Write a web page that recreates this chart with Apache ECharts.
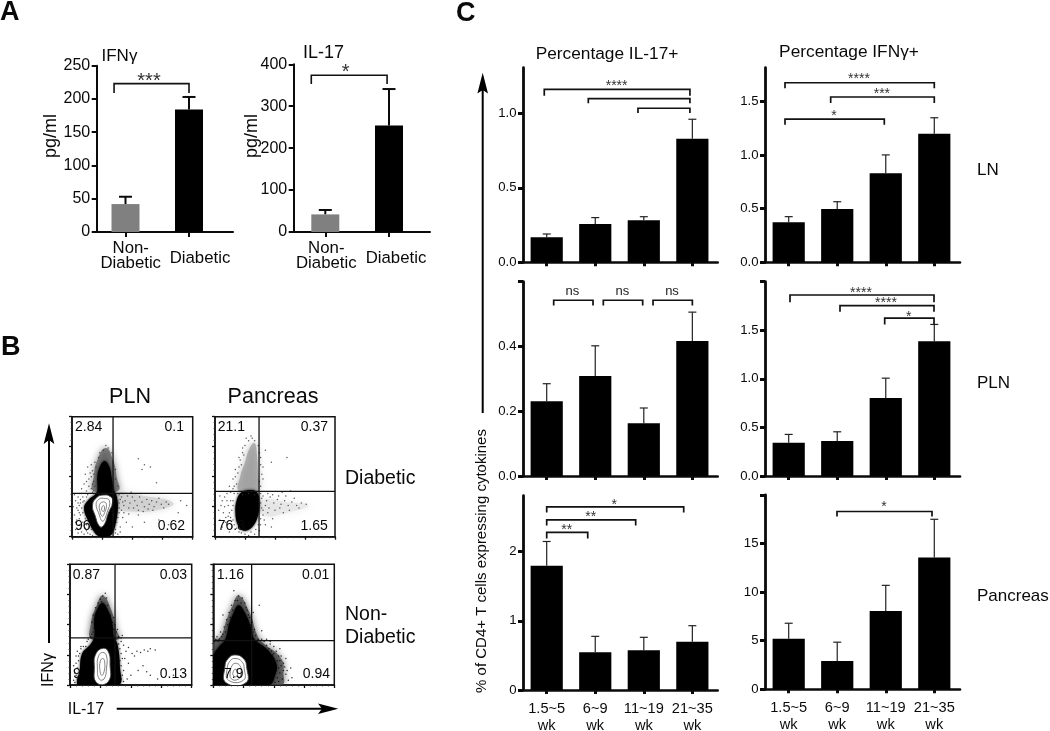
<!DOCTYPE html>
<html><head><meta charset="utf-8">
<style>html,body{margin:0;padding:0;background:#fff}#c{width:1050px;height:731px}</style>
<script src="https://cdn.jsdelivr.net/npm/echarts@6/dist/echarts.min.js"></script>
</head><body><div id="c"></div>
<script>
// ---------- Panel A data
const groupCats = ['Non-\nDiabetic', 'Diabetic'];
const ifnSerumMeans = [42, 184];
const ifnSerumUppers = [53, 203];
const il17SerumMeans = [42, 254];
const il17SerumUppers = [52.5, 341];
// ---------- Panel C data
const ageCats = ['1.5~5\nwk', '6~9\nwk', '11~19\nwk', '21~35\nwk'];
const il17LnMeans = [0.168, 0.257, 0.282, 0.83];
const il17LnUppers = [0.19, 0.30, 0.306, 0.96];
const ifnLnMeans = [0.372, 0.496, 0.83, 1.197];
const ifnLnUppers = [0.425, 0.564, 1.0, 1.346];
const il17PlnMeans = [0.231, 0.309, 0.163, 0.417];
const il17PlnUppers = [0.285, 0.402, 0.21, 0.506];
const ifnPlnMeans = [0.342, 0.36, 0.804, 1.387];
const ifnPlnUppers = [0.428, 0.455, 1.007, 1.56];
const il17PanMeans = [1.796, 0.545, 0.574, 0.698];
const il17PanUppers = [2.148, 0.776, 0.762, 0.93];
const ifnPanMeans = [5.2, 2.92, 8.07, 13.57];
const ifnPanUppers = [6.8, 4.85, 10.7, 17.5];
// Significance brackets: [fromX, toX, topY, legEndY, labelX, labelY, label]
const ifnSerumBrackets = [[-0.18, 1, 223, 209, 0.37, 229, '***']];
const il17SerumBrackets = [[-0.22, 0.97, 374, 353, 0.32, 385, '*']];
const il17LnBrackets = [[-0.05, 2.95, 1.161, 1.118, 1.44, 1.205, '****'], [0.857, 2.95, 1.098, 1.067], [1.88, 2.95, 1.034, 1.002]];
const ifnLnBrackets = [[-0.076, 3, 1.672, 1.62, 1.449, 1.735, '****'], [0.865, 3, 1.539, 1.483, 1.92, 1.592, '***'], [-0.076, 1.97, 1.334, 1.281, 0.933, 1.393, '*']];
const il17PlnBrackets = [[0.144, 0.954, 0.5427, 0.5263, 0.527, 0.5697, 'ns'], [1.166, 1.977, 0.5427, 0.5263, 1.557, 0.5697, 'ns'], [2.19, 3, 0.5427, 0.5263, 2.581, 0.5697, 'ns']];
const ifnPlnBrackets = [[0.027, 2.994, 1.863, 1.788, 1.49, 1.912, '****'], [1.057, 2.994, 1.753, 1.69, 2.005, 1.808, '****'], [1.978, 2.994, 1.625, 1.56, 2.473, 1.67, '*']];
const il17PanBrackets = [[0, 0.845, 2.279, 2.192, 0.412, 2.36, '**'], [0, 1.833, 2.461, 2.38, 0.906, 2.543, '**'], [0, 2.822, 2.649, 2.568, 1.392, 2.712, '*']];
const ifnPanBrackets = [[0.995, 2.953, 18.3, 17.79, 1.964, 19.03, '*']];
// Tick values and labels
const ifnSerumTicks = [0, 50, 100, 150, 200, 250];
const il17SerumTicks = [0, 100, 200, 300, 400];
const il17LnTicks = [0, 0.5, 1];
const il17LnTickLabels = ['0.0', '0.5', '1.0'];
const ifnLnTicks = [0, 0.5, 1, 1.5];
const ifnLnTickLabels = ['0.0', '0.5', '1.0', '1.5'];
const il17PlnTicks = [0, 0.2, 0.4, 0.6];
const il17PlnTickLabels = ['0.0', '0.2', '0.4', ''];
const ifnPlnTicks = [0, 0.5, 1, 1.5, 2];
const ifnPlnTickLabels = ['0.0', '0.5', '1.0', '1.5', ''];
const il17PanTicks = [0, 1, 2];
const il17PanTickLabels = ['0', '1', '2'];
const ifnPanTicks = [0, 5, 10, 15, 20];
const ifnPanTickLabels = ['0', '5', '10', '15', ''];
// ---------- Panel B data (axes are 0-100 in each direction)
const facsGatePlnDiab = [34, 36.1];
const facsGatePanDiab = [36.7, 37.8];
const facsGatePlnNon = [37, 39];
const facsGatePanNon = [31.7, 36.7];
const cloudPlnDiab = [[27,63],[31,58],[33,48],[35,38],[37,34],[38,24],[36,10],[33,2],[29,0],[23,0],[19,3],[14,12],[10,24],[14,31],[19,35],[21,38],[21,50],[23,58]];
const cloudPanDiab = [[22,37],[30,39],[35,37],[37,30],[36,18],[31,8],[24,5],[19,10],[17,20],[18,30]];
const cloudPlnNon = [[27,68],[32,60],[35,50],[36,40],[39,34],[41,15],[40,0],[7,0],[8,12],[10,26],[17,34],[20,40],[20,55],[23,64]];
const cloudPanNon = [[21,66],[27,58],[31,48],[34,38],[44,30],[52,18],[51,8],[46,0],[0,0],[0,24],[5,32],[10,38],[13,50],[16,58]];
const smearPlnDiab = [[36,36],[60,34],[84,28],[70,22],[50,21],[38,24]];
const haloPlnDiab = [[28,74],[34,64],[37,50],[38,38],[18,38],[18,50],[21,64]];
const columnPanDiab = [[33,78],[35,68],[36,52],[37,40],[36,38],[20,38],[21,50],[25,62],[29,74]];
const smearPanDiab = [[38,30],[60,29],[78,26],[60,20],[40,18]];
const haloPlnNon = [[27,74],[34,62],[38,46],[40,38],[18,38],[17,50],[22,66]];
const haloPanNon = [[21,74],[30,60],[36,42],[40,36],[56,22],[58,10],[56,0],[0,0],[0,36],[6,40],[11,54],[16,66]];
const contourPlnDiab = [[26,34.7],[32,33.3],[33.7,29],[30,19.4],[26.5,9.7],[23.2,8.3],[19,18],[17,26.4],[20.4,32.5]];
const contourPlnNon = [[27.4,30.4],[31.5,27.6],[32.9,18],[31.5,2.8],[21.9,1.9],[20,15],[21.4,26]];
const contourPanNon = [[17.9,24.9],[24.8,22],[27.5,15.2],[27,1.9],[10.5,1.9],[9.6,15.2],[12.4,22]];
const ringsPlnDiab = [[[26,32],[31,30],[29,20],[25.5,13],[22,20],[20,27],[22,31]], [[26,29],[28.5,27],[27,20],[25,17],[23,22],[23,27]], [[26,26],[27,24],[26,21],[24.5,23]]];
const ringsPlnNon = [[[27,27],[30,24],[30,14],[28,5],[24,5],[22.5,15],[23.5,24]], [[27,22],[28.5,19],[28,11],[26,8],[24.5,13],[25,20]]];
const ringsPanNon = [[[18,22],[23.5,19.5],[25.5,14],[25,4],[12.5,4],[11.5,14],[14,20]], [[18,18],[22,16],[23,10],[21,5],[15,5],[14,11],[15.5,16]], [[18,13],[20,11],[19,7],[16.5,8],[16.5,11]]];
const dotsPlnDiab = [[8,40],[10,44],[14,42],[16,50],[18,46],[20,58],[14,48],[19,62],[22,66],[26,72],[30,74],[34,62],[36,48],[36,56],[38,42],[12,38],[6,36],[11,52],[17,55],[23,70],[28,76],[33,70],[3,6],[4,14],[5,22],[3,30],[6,10],[2,18],[8,4],[10,2],[36,6],[34,18],[40,8],[42,16],[1,25],[5,33],[38,30],[41,33],[44,30],[46,34],[48,28],[50,33],[52,30],[54,26],[56,33],[58,29],[60,25],[62,31],[64,27],[66,30],[68,25],[70,29],[72,32],[74,27],[76,24],[78,29],[80,27],[43,26],[47,24],[51,24],[55,22],[59,21],[63,23],[67,22],[42,36],[49,37],[57,36],[60,60],[58,56],[65,58],[55,65],[70,45],[90,30],[95,26],[80,10],[72,14],[60,12],[50,8],[55,18],[88,20],[45,12],[47,19],
  [19,42],[18,38],[17,37],[15,36],[13,35],[9,33],[7,31],[5,28],[6,26],[4,24],[7,18],[6,15],[9,12],[8,9],[11,7],[12,5],[13,3],[15,2],[17,1],[7,28],[8,24],[9,20],[11,15],[12,10],[14,8],[16,6],[37,12],[38,16],[39,20],[39,24],[36,3],[38,2],[40,4],[41,22],[43,20],[39,28],[40,31],[42,29],[39,35],[16,40],[17,44],[15,53],[18,52],[13,58],[16,60],[12,46],[11,36],[8,36],[9,29],[2,35],[3,12],[5,3],[6,20],[10,30],[12,33]];
const dotsPanDiab = [[26,82],[30,84],[33,80],[36,76],[23,74],[20,66],[17,56],[15,48],[12,42],[16,42],[24,68],[38,66],[40,58],[40,48],[42,72],[47,62],[60,66],[8,33],[5,26],[7,20],[4,14],[9,12],[6,8],[3,22],[11,26],[13,16],[14,8],[12,4],[15,30],[40,34],[43,30],[46,33],[49,28],[52,31],[55,27],[58,30],[61,26],[64,29],[68,26],[72,28],[76,27],[42,26],[45,24],[50,22],[54,24],[40,22],[41,14],[38,10],[37,5],[40,18],[56,37],[63,38],[47,8],[33,2],[28,1],[16,36],[19,36],[10,36],
  [14,22],[15,26],[13,30],[12,20],[15,14],[16,10],[18,7],[20,4],[22,3],[25,2],[30,4],[34,6],[36,10],[38,15],[39,24],[38,28],[39,32],[38,36],[10,30],[8,25],[6,30],[4,34],[11,17],[9,16],[7,12],[18,44],[17,50],[19,53],[20,58],[22,60],[21,64],[23,70],[25,76],[28,80],[31,82],[37,70],[38,60],[37,46],[39,52],[38,42],[15,40],[13,37],[23,35],[28,36],[33,35],[44,36],[48,35],[53,34],[59,34],[66,32],[70,24],[62,22],[57,20],[44,20],[42,10],[48,15]];
const dotsPlnNon = [[27,74],[25,71],[30,72],[24,66],[31,66],[22,60],[33,58],[21,54],[35,52],[20,47],[36,46],[38,44],[18,42],[43,41],[42,36],[41,30],[44,33],[46,28],[48,31],[51,26],[53,24],[55,28],[58,27],[61,29],[64,28],[66,30],[70,29],[45,22],[48,18],[42,16],[44,12],[50,8],[47,5],[56,12],[60,16],[63,11],[66,8],[72,5],[85,8],[42,5],[6,5],[5,18],[4,10],[7,24],[13,32],
  [29,76],[26,69],[23,68],[21,64],[19,58],[18,52],[19,44],[17,40],[15,38],[36,56],[37,50],[39,46],[40,40],[42,39],[40,34],[42,26],[43,22],[41,20],[43,8],[41,2],[44,3],[6,14],[5,8],[3,4],[7,20],[6,28],[9,30],[11,32],[14,36],[8,26],[9,32],[5,24],[3,16],[4,2]];
const dotsPanNon = [[21,74],[24,72],[18,70],[26,68],[15,66],[13,60],[28,62],[30,56],[11,54],[32,52],[9,48],[34,46],[6,44],[35,41],[37,38],[3,40],[1,36],[33,60],[8,58],[36,32],[52,28],[54,24],[50,32],[47,36],[55,20],[56,16],[58,12],[52,12],[53,6],[57,5],[60,9],[62,4],[51,2],[44,33],[49,25],[40,45],[60,22],[64,14],[55,30],[38,66],[13,44],[17,78],
  [20,70],[23,68],[16,62],[27,64],[14,56],[29,58],[12,50],[31,50],[10,44],[33,44],[8,42],[36,36],[5,38],[38,34],[2,38],[42,36],[46,30],[48,28],[50,26],[53,20],[54,14],[55,10],[54,3],[47,34],[44,38],[40,38],[7,40],[4,36],[58,18],[59,15],[56,24],[61,12],[65,6]];
// ---------- Layouts (pixels) for the plots
const layoutA1 = {axisX: 96.7, endX: 233, tick0: 125.5, step: 63.5, top: 65.7, bottom: 232};
const layoutA2 = {axisX: 293.7, endX: 430, tick0: 325.3, step: 63.7, top: 64.3, bottom: 232};
const colL = {axisX: 523, endX: 717.7, tick0: 546.7, step: 48.55};
const colR = {axisX: 765, endX: 960, tick0: 788.7, step: 48.53};
const ink = '#0a0a0a';
const face = 'Liberation Sans, Arial, sans-serif';
const grids = [], xAxes = [], yAxes = [], series = [];

function addBars(lay, cats, means, uppers, brackets, ticks, tickLabels, yMax, opt) {
  const i = grids.length;
  grids.push({left: lay.axisX, top: lay.top, width: lay.endX - lay.axisX, height: lay.bottom - lay.top, containLabel: false, outerBoundsMode: 'none'});
  const idx = cats.map((c, k) => k);
  xAxes.push({
    type: 'value', gridIndex: i, position: 'bottom',
    min: (lay.axisX - lay.tick0) / lay.step, max: (lay.endX - lay.tick0) / lay.step,
    splitLine: {show: false},
    axisLine: {onZero: false, lineStyle: {color: ink, width: opt.big ? 2 : 2.6}},
    axisTick: {show: true, customValues: idx, length: opt.big ? 5 : 4, lineStyle: {color: ink, width: opt.big ? 2 : 3}},
    axisLabel: {
      show: !!opt.showCats, customValues: idx, margin: 10.5, color: ink,
      showMinLabel: true, showMaxLabel: true, hideOverlap: false,
      fontFamily: face, fontSize: 14.6, lineHeight: 17,
      formatter: v => cats[Math.round(v)]
    }
  });
  yAxes.push({
    type: 'value', gridIndex: i, position: 'left', min: 0, max: yMax,
    splitLine: {show: false},
    axisLine: {show: true, onZero: false, lineStyle: {color: ink, width: opt.big ? 2 : 2.8}},
    axisTick: {show: true, customValues: ticks, length: 5, lineStyle: {color: ink, width: opt.big ? 2 : 3}},
    axisLabel: {
      customValues: ticks, margin: 6.5, color: ink, fontFamily: face,
      fontSize: opt.big ? 16 : 13.2, showMinLabel: true, showMaxLabel: true,
      formatter: v => { const k = ticks.findIndex(t => Math.abs(t - v) < 1e-6); return tickLabels[k] === undefined ? '' : tickLabels[k]; }
    }
  });
  series.push({
    type: 'bar', xAxisIndex: i, yAxisIndex: i, barWidth: opt.big ? 28 : 32.2, silent: true, animation: false, z: 3,
    data: means.map((m, k) => ({value: [k, m], itemStyle: {color: opt.colors ? opt.colors[k] : '#000'}}))
  });
  series.push({
    type: 'custom', xAxisIndex: i, yAxisIndex: i, silent: true, animation: false, z: 2, clip: false,
    data: means.map((m, k) => [k, m, uppers[k]]),
    renderItem: (p, api) => {
      const a = api.coord([api.value(0), api.value(1)]), b = api.coord([api.value(0), api.value(2)]);
      const w = opt.big ? 6.5 : 4, lw = opt.big ? 2 : 1.2, st = {stroke: opt.big ? ink : '#222', lineWidth: lw};
      return {type: 'group', children: [
        {type: 'line', shape: {x1: a[0], y1: a[1], x2: b[0], y2: b[1]}, style: st},
        {type: 'line', shape: {x1: b[0] - w, y1: b[1], x2: b[0] + w, y2: b[1]}, style: st}
      ]};
    }
  });
  series.push({
    type: 'custom', xAxisIndex: i, yAxisIndex: i, silent: true, animation: false, z: 4, clip: false,
    data: brackets.map(b => [b[0], b[2]]),
    renderItem: (p, api) => {
      const b = brackets[p.dataIndex];
      const tl = api.coord([b[0], b[2]]), br = api.coord([b[1], b[3]]);
      const kids = [{type: 'polyline', shape: {points: [[tl[0], br[1]], tl, [br[0], tl[1]], br]},
        style: {stroke: '#111', lineWidth: opt.big ? 1.6 : 1.7, fill: 'none'}}];
      if (b[6]) {
        const t = api.coord([b[4], b[5]]);
        const isNs = b[6] === 'ns';
        kids.push({type: 'text', style: {text: b[6], x: t[0], y: t[1] + (isNs ? 0 : (opt.big ? 2 : 3)), align: 'center', verticalAlign: 'middle',
          fontFamily: face, fontSize: isNs ? 13 : (opt.big ? 20 : 14), fill: isNs ? '#222' : '#333'}});
      }
      return {type: 'group', children: kids};
    }
  });
}

addBars(layoutA1, groupCats, ifnSerumMeans, ifnSerumUppers, ifnSerumBrackets, ifnSerumTicks, ifnSerumTicks.map(String), 250, {big: true, colors: ['#808080', '#000']});
addBars(layoutA2, groupCats, il17SerumMeans, il17SerumUppers, il17SerumBrackets, il17SerumTicks, il17SerumTicks.map(String), 400, {big: true, colors: ['#808080', '#000']});
addBars({...colL, top: 67.7, bottom: 262.3}, ageCats, il17LnMeans, il17LnUppers, il17LnBrackets, il17LnTicks, il17LnTickLabels, 1.306, {});
addBars({...colR, top: 67.7, bottom: 262.3}, ageCats, ifnLnMeans, ifnLnUppers, ifnLnBrackets, ifnLnTicks, ifnLnTickLabels, 1.812, {});
addBars({...colL, top: 281.7, bottom: 476}, ageCats, il17PlnMeans, il17PlnUppers, il17PlnBrackets, il17PlnTicks, il17PlnTickLabels, 0.6, {});
addBars({...colR, top: 281.7, bottom: 476}, ageCats, ifnPlnMeans, ifnPlnUppers, ifnPlnBrackets, ifnPlnTicks, ifnPlnTickLabels, 2, {});
addBars({...colL, top: 495.7, bottom: 690}, ageCats, il17PanMeans, il17PanUppers, il17PanBrackets, il17PanTicks, il17PanTickLabels, 2.81, {showCats: true});
addBars({...colR, top: 495, bottom: 689.3}, ageCats, ifnPanMeans, ifnPanUppers, ifnPanBrackets, ifnPanTicks, ifnPanTickLabels, 20, {showCats: true});

function addFacs(box, gate, cloud, hazes, contour, rings, dots, dotColor) {
  const i = grids.length;
  grids.push({left: box[0], top: box[1], width: box[2] - box[0], height: box[3] - box[1], show: true,
    borderColor: '#111', borderWidth: 1.5, backgroundColor: 'transparent', containLabel: false, outerBoundsMode: 'none'});
  const ax = {
    type: 'value', gridIndex: i, min: 0, max: 100, interval: 25, splitLine: {show: false},
    axisLine: {onZero: false, lineStyle: {color: '#111', width: 1.5}},
    axisTick: {length: 3, lineStyle: {color: '#111', width: 1.3}},
    minorTick: {show: true, splitNumber: 5, length: 1.5, lineStyle: {color: '#333', width: 0.8}},
    axisLabel: {show: false}
  };
  xAxes.push({...ax, position: 'bottom'});
  yAxes.push({...ax, position: 'left'});
  const poly = (pts, style, smooth) => ({type: 'polygon', shape: {points: pts, smooth: smooth}, style});
  series.push({
    type: 'custom', xAxisIndex: i, yAxisIndex: i, silent: true, animation: false, z: 2, clip: true,
    data: [[0, 0]],
    renderItem: (p, api) => {
      const map = pts => pts.map(q => api.coord(q));
      const kids = hazes.map(h => poly(map(h[0]), {fill: h[1], shadowBlur: 7, shadowColor: h[1], opacity: h[2]}, 0.5));
      kids.push(poly(map(cloud), {fill: '#000', shadowBlur: 3, shadowColor: '#000'}, 0.4));
      if (contour) {
        kids.push(poly(map(contour), {fill: '#fff', stroke: '#444', lineWidth: 0.9}, 0.5));
        rings.forEach(r => kids.push(poly(map(r), {fill: 'none', stroke: '#666', lineWidth: 0.8}, 0.5)));
      }
      return {type: 'group', children: kids};
    }
  });
  series.push({
    type: 'scatter', xAxisIndex: i, yAxisIndex: i, silent: true, animation: false, z: 3,
    symbolSize: 1.5, itemStyle: {color: dotColor}, data: dots
  });
  series.push({
    type: 'custom', xAxisIndex: i, yAxisIndex: i, silent: true, animation: false, z: 4, clip: true,
    data: [gate],
    renderItem: (p, api) => {
      const c = api.coord([api.value(0), api.value(1)]);
      const a = api.coord([0, 0]), b = api.coord([100, 100]);
      const st = {stroke: '#111', lineWidth: 1.3};
      return {type: 'group', children: [
        {type: 'line', shape: {x1: c[0], y1: a[1], x2: c[0], y2: b[1]}, style: st},
        {type: 'line', shape: {x1: a[0], y1: c[1], x2: b[0], y2: c[1]}, style: st}
      ]};
    }
  });
}
addFacs([72, 416.7, 192.7, 536.7], facsGatePlnDiab, cloudPlnDiab, [[smearPlnDiab, '#c8c8c8', 0.6], [haloPlnDiab, '#555', 0.7]], contourPlnDiab, ringsPlnDiab, dotsPlnDiab, '#333');
addFacs([215, 416.7, 335, 536.7], facsGatePanDiab, cloudPanDiab, [[columnPanDiab, '#999', 0.7], [smearPanDiab, '#ddd', 0.5]], null, null, dotsPanDiab, '#333');
addFacs([70, 564.3, 191.7, 685], facsGatePlnNon, cloudPlnNon, [[haloPlnNon, '#444', 0.75]], contourPlnNon, ringsPlnNon, dotsPlnNon, '#000');
addFacs([213.3, 564.3, 334.3, 685], facsGatePanNon, cloudPanNon, [[haloPanNon, '#444', 0.75]], contourPanNon, ringsPanNon, dotsPanNon, '#000');

// ---------- Text and arrows around the plots
const T = (text, x, y, size, o = {}) => ({
  type: 'text', x, y, rotation: o.rot || 0, z: o.top ? 20 : 0,
  style: {text, fontFamily: face, fontSize: size, fontWeight: o.bold ? 'bold' : 'normal', fill: ink,
    textAlign: o.align || 'left', textVerticalAlign: 'middle', lineHeight: o.lh}
});
const arrow = pts => ({type: 'polygon', shape: {points: pts}, style: {fill: '#000'}});
const rule = (x1, y1, x2, y2) => ({type: 'line', shape: {x1, y1, x2, y2}, style: {stroke: '#000', lineWidth: 2}});
const L = {top: true}, R = {top: true, align: 'right'};
const C16 = {align: 'center', lh: 15};
const graphic = [
  T('A', 0, 13, 27, {bold: true}), T('B', 1, 348, 27, {bold: true}), T('C', 456, 14, 27, {bold: true}),
  T('IFNγ', 101.5, 56.7, 17), T('IL-17', 303, 53, 18),
  T('pg/ml', 51, 136, 18, {rot: Math.PI / 2, align: 'center'}), T('pg/ml', 252, 136, 18, {rot: Math.PI / 2, align: 'center'}),
  T(groupCats[0], 130.7, 255.5, 16.8, C16), T(groupCats[1], 200, 258.7, 16.8, C16),
  T(groupCats[0], 326.3, 255.5, 16.8, C16), T(groupCats[1], 396, 258.7, 16.8, C16),
  T('PLN', 130, 396.7, 21.5, {align: 'center'}), T('Pancreas', 273, 396.7, 21.5, {align: 'center'}),
  T('Diabetic', 345, 479, 19.5), T('Non-', 345, 615, 19.5), T('Diabetic', 345, 637.7, 19.5),
  T('IFNγ', 49, 670, 16, {rot: Math.PI / 2, align: 'center'}), T('IL-17', 67.7, 709.3, 16),
  T('2.84', 75, 427.3, 14, L), T('0.1', 184, 427.3, 14, R), T('96', 75, 526, 14, L), T('0.62', 185, 526, 14, R),
  T('21.1', 217.7, 427.3, 14, L), T('0.37', 328, 427.3, 14, R), T('76.8', 217.7, 526, 14, L), T('1.65', 327.7, 526, 14, R),
  T('0.87', 72.7, 575, 14, L), T('0.03', 187, 575, 14, R), T('9', 73, 674, 14, L), T('0.13', 187, 674, 14, R),
  T('1.16', 216.7, 575, 14, L), T('0.01', 329.3, 575, 14, R), T('7.9', 224, 674, 14, L), T('0.94', 330, 674, 14, R),
  T('Percentage IL-17+', 607, 54, 17.3, {align: 'center'}), T('Percentage IFNγ+', 849, 52, 17.3, {align: 'center'}),
  T('LN', 977, 170, 17), T('PLN', 977, 383, 17), T('Pancreas', 977, 596.7, 17),
  T('% of CD4+ T cells expressing cytokines', 482, 561, 15, {rot: Math.PI / 2, align: 'center'}),
  rule(482.7, 90, 482.7, 413), arrow([[482.7, 72.7], [488, 93.5], [482.7, 90], [477.4, 93.5]]),
  rule(49, 440, 49, 643), arrow([[49, 423.3], [54.3, 444], [49, 440], [43.7, 444]]),
  rule(116.7, 708.7, 322, 708.7), arrow([[338.3, 708.7], [318, 714], [322, 708.7], [318, 703.4]])
];

const chart = echarts.init(document.getElementById('c'), null, {renderer: 'canvas'});
chart.setOption({animation: false, backgroundColor: '#fff', grid: grids, xAxis: xAxes, yAxis: yAxes, series, graphic: {elements: graphic}, tooltip: {show: false}});
</script></body></html>
